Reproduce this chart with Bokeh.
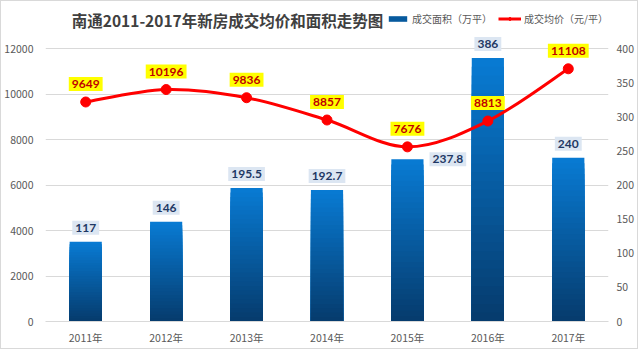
from bokeh.plotting import figure
from bokeh.models import (Range1d, LinearAxis, Label, Legend, LegendItem,
                          ColumnDataSource, FixedTicker)
from bokeh.embed import file_html
from bokeh.resources import INLINE

# ---- data ----
years = ["2011年", "2012年", "2013年", "2014年", "2015年", "2016年", "2017年"]
area = [117, 146, 195.5, 192.7, 237.8, 386, 240]          # 万平 (right axis)
price = [9649, 10196, 9836, 8857, 7676, 8813, 11108]      # 元/平 (left axis)
area_labels = ["117", "146", "195.5", "192.7", "237.8", "386", "240"]
price_labels = ["9649", "10196", "9836", "8857", "7676", "8813", "11108"]
left_ticks = [0, 2000, 4000, 6000, 8000, 10000, 12000]
right_ticks = [0, 50, 100, 150, 200, 250, 300, 350, 400]
title_text = "南通2011-2017年新房成交均价和面积走势图"
legend_area = "成交面积（万平）"
legend_price = "成交均价（元/平）"

FONT = "Noto Sans CJK SC"
GRAY = "#595959"
GRID = "#d9d9d9"

xs = list(range(len(years)))

# frame spans from the canvas top so that labels above 12000 are not clipped
LEFT_MAX = 12000 * 320 / 273.0
RIGHT_MAX = 400 * 320 / 273.0

p = figure(width=638, height=349, output_backend="svg", toolbar_location=None,
           x_range=Range1d(-0.5, len(years) - 0.5), y_range=Range1d(0, LEFT_MAX),
           min_border_left=42, min_border_right=31, min_border_top=0,
           min_border_bottom=29,
           styles={"border": "1px solid #d9d9d9"})
p.extra_y_ranges = {"area": Range1d(0, RIGHT_MAX)}
p.outline_line_color = None
p.background_fill_color = "white"
p.border_fill_color = "white"

# axes
p.xaxis.ticker = FixedTicker(ticks=xs)
p.xaxis.major_label_overrides = {i: y for i, y in enumerate(years)}
p.xaxis.axis_line_color = GRID
p.xaxis.major_tick_line_color = None
p.xaxis.minor_tick_line_color = None
p.xaxis.major_label_text_font = FONT
p.xaxis.major_label_text_font_size = "10.5px"
p.xaxis.major_label_text_color = GRAY
p.xaxis.major_label_standoff = 2

p.yaxis.ticker = FixedTicker(ticks=left_ticks)
p.yaxis.axis_line_color = None
p.yaxis.major_tick_line_color = None
p.yaxis.minor_tick_line_color = None
p.yaxis.major_label_text_font = FONT
p.yaxis.major_label_text_font_size = "10.5px"
p.yaxis.major_label_text_color = GRAY
p.yaxis.major_label_standoff = 6

ry = LinearAxis(y_range_name="area", ticker=FixedTicker(ticks=right_ticks))
ry.axis_line_color = None
ry.major_tick_line_color = None
ry.minor_tick_line_color = None
ry.major_label_text_font = FONT
ry.major_label_text_font_size = "10.5px"
ry.major_label_text_color = GRAY
ry.major_label_standoff = 2
p.add_layout(ry, "right")

p.xgrid.grid_line_color = None
p.ygrid.grid_line_color = GRID
p.ygrid.grid_line_width = 1

# ---- gradient bars (stacked overlapping slices, top light -> bottom dark) ----
N = 30
top_rgb = (8, 122, 210)
bot_rgb = (6, 60, 110)
bx, btop, bcol = [], [], []
for k in range(N):
    t = k / (N - 1)
    r = round(top_rgb[0] + (bot_rgb[0] - top_rgb[0]) * t)
    g = round(top_rgb[1] + (bot_rgb[1] - top_rgb[1]) * t)
    b = round(top_rgb[2] + (bot_rgb[2] - top_rgb[2]) * t)
    c = "#%02x%02x%02x" % (r, g, b)
    for i, v in enumerate(area):
        bx.append(xs[i])
        btop.append(v * (N - k) / N)
        bcol.append(c)
bsrc = ColumnDataSource(dict(x=bx, top=btop, color=bcol))
bars = p.vbar(x="x", top="top", bottom=0, width=0.4, fill_color="color",
              line_color=None, source=bsrc, y_range_name="area")

# ---- smoothed price line (Bezier, Catmull-Rom control points) ----
n = len(price)
x0, y0, x1, y1, cx0, cy0, cx1, cy1 = [], [], [], [], [], [], [], []
for i in range(n - 1):
    pm = i - 1 if i > 0 else 0
    pp = i + 2 if i + 2 < n else n - 1
    x0.append(xs[i]); y0.append(price[i])
    x1.append(xs[i + 1]); y1.append(price[i + 1])
    cx0.append(xs[i] + (xs[i + 1] - xs[pm]) / 6.0)
    cy0.append(price[i] + (price[i + 1] - price[pm]) / 6.0)
    cx1.append(xs[i + 1] - (xs[pp] - xs[i]) / 6.0)
    cy1.append(price[i + 1] - (price[pp] - price[i]) / 6.0)
curve = p.bezier(x0=x0, y0=y0, x1=x1, y1=y1, cx0=cx0, cy0=cy0, cx1=cx1, cy1=cy1,
                 line_color="#ff0000", line_width=3)
pts = p.scatter(x=xs, y=price, size=10, color="#ff0000")

# ---- value labels ----
for i, v in enumerate(area):
    if area_labels[i] == "237.8":
        lab = Label(x=xs[i] + 0.2, y=v, y_range_name="area", text=area_labels[i],
                    x_offset=6, y_offset=0, text_align="left", text_baseline="middle")
    else:
        lab = Label(x=xs[i], y=v, y_range_name="area", text=area_labels[i],
                    x_offset=0, y_offset=7, text_align="center", text_baseline="bottom")
    lab.text_font = "Lato"
    lab.text_font_style = "bold"
    lab.text_font_size = "12px"
    lab.text_color = "#1f3864"
    lab.background_fill_color = "#dce6f2"
    lab.padding = 3
    p.add_layout(lab)

for i, v in enumerate(price):
    lab = Label(x=xs[i], y=v, text=price_labels[i], y_offset=11,
                text_align="center", text_baseline="bottom")
    lab.text_font = "Lato"
    lab.text_font_style = "bold"
    lab.text_font_size = "12px"
    lab.text_color = "#c00000"
    lab.background_fill_color = "#ffff00"
    lab.padding = 3
    p.add_layout(lab)

# ---- title ----
title = Label(x=182, y=302, x_units="screen", y_units="screen", text=title_text,
              text_font=FONT, text_font_style="bold", text_font_size="15.5px",
              text_color="#404040", text_align="center", text_baseline="middle")
p.add_layout(title)

# ---- legend ----
legend = Legend(items=[LegendItem(label=legend_area, renderers=[bars],
                                  index=(N // 2) * len(area)),
                       LegendItem(label=legend_price, renderers=[curve, pts])],
                orientation="horizontal", location=(341, 295),
                background_fill_alpha=0, border_line_color=None,
                label_text_font=FONT, label_text_font_size="10px",
                label_text_color=GRAY, glyph_width=23, glyph_height=7,
                label_height=14, label_standoff=3, spacing=6, padding=0, margin=0)
p.add_layout(legend)

open("out.html", "w").write(file_html(p, INLINE))
